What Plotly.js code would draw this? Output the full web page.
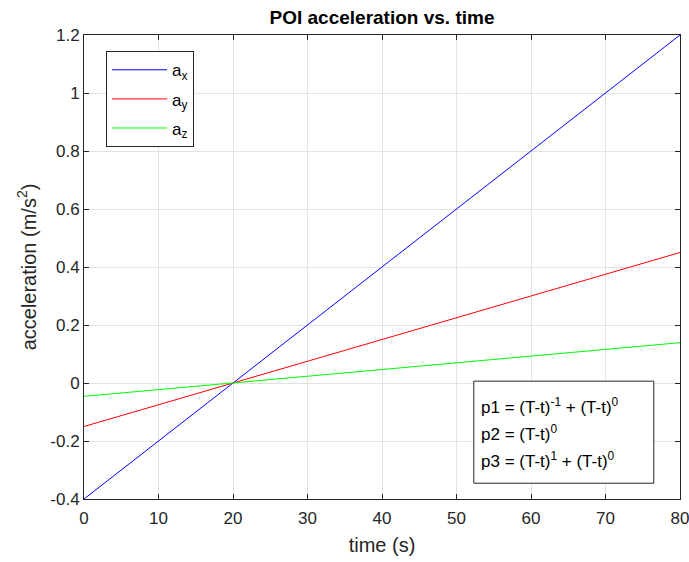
<!DOCTYPE html>
<html>
<head>
<meta charset="utf-8">
<script src="https://cdn.plot.ly/plotly-3.0.1.min.js"></script>
<style>html,body{margin:0;padding:0;background:#fff;}#chart{width:689px;height:562px;}</style>
</head>
<body>
<div id="chart"></div>
<script>
// Data
const time = [0, 80];
const ax = [-0.4, 1.2];
const ay = [-0.15, 0.45];
const az = [-0.046, 0.139];
const seriesNames = ['a<sub>x</sub>', 'a<sub>y</sub>', 'a<sub>z</sub>'];
const seriesColors = ['#0000ff', '#ff0000', '#00ff00'];
const xTicks = [0, 10, 20, 30, 40, 50, 60, 70, 80];
const yTicks = [-0.4, -0.2, 0, 0.2, 0.4, 0.6, 0.8, 1, 1.2];
const yTickText = ['-0.4', '-0.2', '0', '0.2', '0.4', '0.6', '0.8', '1', '1.2'];
const noteLines = [
  'p1 = (T-t)<sup>-1</sup> + (T-t)<sup>0</sup>',
  'p2 = (T-t)<sup>0</sup>',
  'p3 = (T-t)<sup>1</sup> + (T-t)<sup>0</sup>'
];

const font = '"Liberation Sans", Arial, sans-serif';
const values = [ax, ay, az];
const traces = values.map((v, i) => ({
  x: time, y: v, type: 'scatter', mode: 'lines', name: seriesNames[i],
  legendgroup: 'g' + i,
  line: {color: seriesColors[i], width: 1}
}));

const axisCommon = {
  showline: true, linecolor: '#262626', linewidth: 1, mirror: 'ticks',
  ticks: 'inside', ticklen: 5, tickcolor: '#262626',
  showgrid: true, gridcolor: '#e3e3e3', gridwidth: 1, zeroline: false,
  ticklabeloverflow: 'allow',
  tickfont: {family: font, size: 17, color: '#262626'}
};

const annotations = noteLines.map((t, i) => ({
  xref: 'paper', yref: 'paper', x: 0.663, y: 0.2 - i * 0.058,
  xanchor: 'left', yanchor: 'middle', text: t, showarrow: false, align: 'left',
  font: {family: font, size: 17, color: '#000'}
}));

const layout = {
  width: 689, height: 562,
  margin: {l: 84, r: 9, t: 35, b: 63},
  paper_bgcolor: '#ffffff', plot_bgcolor: '#ffffff',
  title: {text: '<b>POI acceleration vs. time</b>', font: {family: font, size: 19, color: '#000'},
          xref: 'paper', x: 0.5, xanchor: 'center', y: 0.969, yanchor: 'middle'},
  xaxis: Object.assign({}, axisCommon, {
    range: [0, 80], tickvals: xTicks, ticklabelstandoff: 4,
    title: {text: 'time (s)', font: {family: font, size: 20, color: '#262626'}, standoff: 10}
  }),
  yaxis: Object.assign({}, axisCommon, {
    range: [-0.4, 1.2], tickvals: yTicks, ticktext: yTickText,
    title: {text: 'acceleration (m/s<sup>2</sup>)', font: {family: font, size: 20, color: '#262626'}, standoff: 8}
  }),
  showlegend: true,
  legend: {
    x: 0.037, y: 0.965, xanchor: 'left', yanchor: 'top',
    bgcolor: '#ffffff', bordercolor: '#262626', borderwidth: 1,
    font: {family: font, size: 17, color: '#000'},
    itemwidth: 55, tracegroupgap: 4
  },
  shapes: [{
    type: 'rect', xref: 'paper', yref: 'paper',
    x0: 0.654, x1: 0.956, y0: 0.034, y1: 0.254,
    line: {color: '#262626', width: 1}, fillcolor: '#ffffff', layer: 'above'
  }],
  annotations: annotations
};

Plotly.newPlot('chart', traces, layout, {displayModeBar: false, staticPlot: true});
</script>
</body>
</html>
